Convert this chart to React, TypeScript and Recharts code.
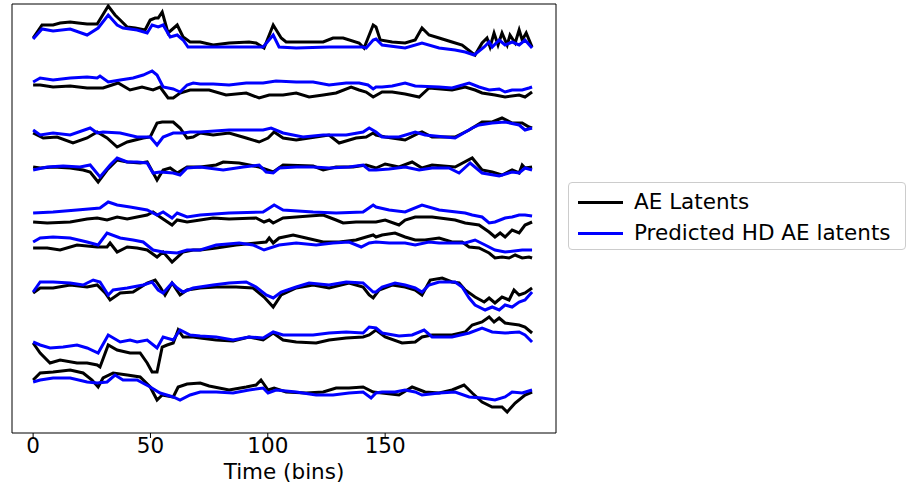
import { LineChart, Line, XAxis, YAxis, ReferenceArea } from "recharts";

type Pt = [number, number];

// time (bins) vs stacked latent level (offset traces, larger = lower on the plot)
const aeLatent1: Pt[] = [[0,38],[3.8,25],[8.5,25],[11.5,23],[15.8,22],[19.2,23],[23,24],[27.3,24],[32,6],[34.9,15],[37.1,20],[40.1,27],[43.5,28],[47.7,30],[49.9,20],[52,18],[53.3,18],[55,12],[57.5,33],[61.4,25],[63.9,37],[66.9,42],[71.2,42],[76.7,45],[83.5,43],[92,42],[95,43],[98.4,48],[102.3,25],[105.7,38],[107.8,42],[117.6,42],[123.6,42],[127.8,38],[132.1,38],[138.9,43],[141,48],[144.9,25],[146.1,27],[147.9,40],[153,42],[158.5,43],[162.8,40],[165.7,28],[168.7,35],[173,38],[178.5,42],[182.8,45],[187.1,53],[188.3,55],[191.3,43],[193.4,38],[194.7,47],[196.4,33],[198.1,45],[199.8,33],[202,45],[203.2,35],[205.4,43],[207.1,30],[208.4,40],[210.1,33],[212.6,47]];
const predLatent1: Pt[] = [[0,39],[3.8,29],[8.5,31],[15.8,29],[23,35],[27.7,28],[32,15],[35.8,25],[38.3,28],[44.3,30],[48.6,33],[50.7,25],[53.3,27],[55.4,25],[58.4,37],[61.4,35],[63.9,40],[66,47],[71.2,47],[83.5,47],[98,47],[102.3,35],[104.8,47],[112.1,48],[126.1,47],[140.6,47],[141.9,48],[144.9,40],[146.1,39],[148.7,45],[158.5,48],[165.7,43],[173,48],[179.8,50],[184.1,52],[187.9,55],[192.2,47],[194.3,42],[195.6,47],[198.6,40],[201.1,45],[204.1,42],[207.1,45],[209.6,40],[212.6,48]];

const aeLatent2: Pt[] = [[0,85],[3,85],[8.5,87],[15.8,86],[23,88],[29.8,88],[36.2,83],[41.3,90],[46.4,87],[51.1,90],[54.1,87],[57.5,98],[59.7,98],[62.6,93],[66.9,90],[71.2,90],[75,90],[82.2,95],[90.8,93],[96.3,98],[100.6,95],[106.5,95],[112.1,93],[117.6,97],[123.6,95],[129.1,93],[135.5,87],[138.9,90],[141.9,92],[144.9,97],[148.7,92],[153,92],[158.5,94],[164.5,97],[168.7,88],[178.5,90],[184.1,87],[188.3,90],[191.3,93],[196.8,95],[201.1,97],[207.1,95],[209.6,97],[212.6,92]];
const predLatent2: Pt[] = [[0,82],[3,78],[8.5,80],[15.8,78],[23,77],[27.3,78],[28.5,76],[32,82],[37.1,80],[42.6,78],[46.9,75],[50.7,71],[52.8,75],[55.4,87],[59.7,89],[62.6,92],[65.6,85],[68.2,83],[71.2,84],[76.7,84],[83.5,85],[90.8,83],[98,83],[103.5,81],[112.1,82],[119.3,82],[126.1,85],[133.4,83],[138.9,83],[142.7,85],[144.9,89],[146.1,87],[148.7,87],[153,86],[158.5,83],[162.8,86],[173,87],[178.5,88],[185.8,83],[190,87],[194.3,90],[198.6,89],[201.1,92],[204.1,90],[208.4,90],[211.3,88],[212.6,87]];

const aeLatent3: Pt[] = [[0,133],[4.3,138],[10.2,137],[17,143],[23,138],[27.3,132],[31.5,138],[35.8,147],[40.1,142],[46.9,138],[49.9,137],[52.8,123],[55,122],[59.7,122],[62.6,128],[65.6,138],[68.2,137],[71.2,133],[76.7,135],[83.5,133],[90.8,138],[96.3,142],[100.1,138],[102.7,132],[106.5,138],[112.1,140],[117.6,138],[126.1,135],[130.4,143],[137.6,138],[141.9,137],[144.9,133],[146.1,135],[150,137],[158.5,140],[164.5,133],[165.7,132],[170,137],[179.8,137],[185.8,130],[191.3,122],[195.6,122],[199.8,118],[204.1,123],[208.4,123],[211.3,127],[212.6,128]];
const predLatent3: Pt[] = [[0,130],[3,135],[8.5,133],[15.8,135],[24.3,128],[27.3,133],[29.8,132],[37.1,133],[44.3,137],[49.9,137],[52.8,145],[55.4,137],[59.7,133],[63.9,133],[66.9,132],[71.2,132],[83.5,130],[98,130],[101.4,128],[106.5,133],[115,137],[123.6,135],[133.4,135],[140.6,132],[143.2,128],[146.1,132],[148.7,137],[155.9,137],[162.8,132],[167,135],[179.8,138],[187.1,128],[190,125],[195.6,123],[201.1,122],[207.1,125],[209.6,130],[212.6,128]];

const aeLatent4: Pt[] = [[0,167],[3,168],[8.5,167],[15.8,168],[21.3,170],[24.3,172],[27.7,182],[31.5,170],[35.8,160],[40.1,162],[45.6,163],[48.6,162],[52.8,180],[55.4,170],[58.4,168],[61.4,173],[65.6,167],[71.2,167],[78,165],[81,162],[87.8,163],[96.3,167],[102.3,172],[106.5,165],[119.3,166],[123.6,170],[129.1,167],[136.3,167],[141.9,165],[146.1,168],[150,164],[155.9,167],[161.5,162],[165.7,168],[170,165],[179.8,167],[187.1,158],[191.3,170],[195.6,172],[199.8,175],[204.1,170],[207.1,173],[208.4,165],[209.6,168],[212.6,167]];
const predLatent4: Pt[] = [[0,170],[6,167],[12.8,166],[20,167],[24.3,165],[28.5,177],[32.8,165],[35.8,158],[40.1,162],[44.3,162],[48.6,163],[51.1,173],[54.1,172],[59.7,173],[62.6,175],[65.6,168],[71.2,167],[81,170],[89.5,167],[96.3,165],[99.3,172],[102.3,173],[104.8,168],[112.1,167],[119.3,167],[126.1,168],[134.6,167],[140.6,165],[143.2,170],[146.1,170],[151.7,169],[158.5,167],[164.5,170],[170,168],[177.2,168],[181.5,173],[186.2,163],[191.3,173],[198.6,176],[204.1,172],[207.1,173],[209.6,168],[212.6,170]];

const aeLatent5: Pt[] = [[0,222],[6,223],[15.8,222],[23,219],[27.3,218],[31.5,220],[35.8,217],[40.1,219],[44.3,217],[48.6,215],[51.1,212],[54.1,217],[59.2,225],[61.4,220],[65.6,222],[71.2,220],[76.7,218],[83.5,219],[95,218],[98.4,222],[100.6,220],[102.3,223],[106.5,218],[112.1,217],[117.6,216],[123.6,215],[129.1,220],[132.1,223],[137.6,222],[146.1,222],[150,220],[155.9,225],[158.5,220],[162.8,217],[170,217],[179.8,220],[184.1,223],[190,225],[194.3,232],[196.8,237],[199,233],[201.1,237],[204.1,230],[207.1,233],[209.6,225],[212.6,222]];
const predLatent5: Pt[] = [[0,213],[8.5,212],[18.7,210],[28.5,208],[32,202],[35.8,205],[41.3,207],[48.6,210],[52.8,215],[55.4,212],[59.2,218],[61.4,213],[65.6,217],[71.2,215],[83.5,213],[98,212],[102.7,205],[106.5,210],[119.3,212],[129.1,213],[140.6,212],[144.9,205],[146.1,207],[151.7,210],[158.5,212],[165.7,205],[173,210],[184.1,213],[187.1,215],[191.3,217],[194.3,223],[196.8,222],[201.1,218],[204.1,217],[207.1,215],[209.6,215],[212.6,216]];

const aeLatent6: Pt[] = [[0,248],[6,248],[11.5,250],[18.7,245],[27.3,247],[31.5,247],[32.8,243],[35.8,252],[40.1,247],[44.3,248],[48.6,250],[52.8,257],[55.4,252],[59.2,262],[63.9,252],[68.2,250],[71.2,250],[78,248],[86.5,245],[95,243],[99.3,242],[100.6,238],[102.3,243],[104.8,238],[110.8,235],[116.3,238],[123.6,242],[130.4,242],[137.6,240],[141.9,237],[144.9,235],[146.1,237],[148.7,235],[154.2,233],[158.5,237],[162.8,240],[167,240],[173,238],[178.5,242],[182.8,242],[185.8,247],[190,248],[194.3,253],[196.8,258],[199.8,257],[202.8,258],[205.4,255],[208.4,258],[211.3,257],[212.6,258]];
const predLatent6: Pt[] = [[0,242],[3,238],[8.5,237],[15.8,238],[23,242],[27.7,245],[31.5,233],[37.1,238],[42.6,240],[46.9,242],[51.1,250],[55.4,252],[61.4,253],[65.6,250],[71.2,250],[78,245],[87.8,243],[93.7,245],[98.4,250],[104.8,245],[112.1,243],[120.6,245],[127.8,243],[134.6,242],[139.8,247],[143.2,243],[146.1,242],[151.7,243],[158.5,243],[162.8,245],[168.7,242],[173,243],[184.1,243],[188.3,240],[192.6,245],[196.8,250],[201.1,252],[208.4,250],[212.6,250]];

const aeLatent7: Pt[] = [[0,293],[3,288],[8.5,288],[15.8,285],[23,287],[27.3,285],[30.7,293],[32.8,300],[37.1,293],[42.6,292],[48.6,283],[52,280],[54.1,287],[56.2,295],[59.2,283],[62.6,295],[65.6,290],[71.2,288],[78,287],[86.5,287],[93.7,288],[98.4,297],[102.3,307],[105.7,295],[112.1,288],[119.3,285],[126.1,288],[134.6,283],[140.6,287],[143.2,295],[144.9,298],[147.4,290],[153,285],[158.5,287],[162.8,290],[165.7,295],[169.2,280],[174.3,278],[178.5,282],[181.5,283],[184.1,290],[188.3,297],[192.2,302],[194.3,298],[196.8,303],[199.8,297],[202.8,300],[204.9,290],[207.1,295],[209.6,293],[212.6,288]];
const predLatent7: Pt[] = [[0,292],[3,282],[8.5,282],[15.8,283],[21.3,285],[25.6,280],[28.5,282],[32,295],[34.1,290],[40.1,288],[46.9,285],[50.7,282],[53.3,290],[55.4,293],[59.2,283],[61.4,288],[63.9,292],[68.2,288],[76.7,285],[83.5,283],[90.8,282],[95,287],[99.3,295],[102.3,298],[105.7,292],[112.1,287],[117.6,283],[126.1,285],[133.4,282],[140.6,283],[144.9,292],[146.1,292],[148.7,287],[154.2,283],[158.5,285],[162.8,288],[165.7,292],[168.7,285],[173,282],[179.8,282],[182.8,287],[185.8,298],[188.3,305],[192.6,310],[195.6,307],[198.6,310],[201.1,305],[204.1,307],[207.1,302],[209.6,300],[212.6,292]];

const aeLatent8: Pt[] = [[0,343],[3,353],[7.2,363],[11.5,360],[18.7,363],[23,363],[27.3,365],[28.5,367],[32,345],[35.8,350],[41.3,353],[45.6,353],[48.6,363],[50.7,372],[52.8,372],[55,347],[57.1,345],[59.7,343],[61.8,330],[63.9,337],[68.2,337],[71.2,338],[78,340],[85.2,341],[92,337],[98,340],[102.3,333],[106.5,340],[112.1,342],[120.6,343],[126.1,340],[133.4,338],[140.6,337],[143.2,335],[146.1,330],[150,337],[157.2,343],[162.8,342],[165.7,337],[170,335],[178.5,335],[184.1,332],[187.1,325],[191.3,322],[194.3,317],[196.4,322],[198.6,318],[201.1,323],[207.1,325],[209.6,327],[212.6,333]];
const predLatent8: Pt[] = [[0,342],[3,345],[7.2,348],[12.8,347],[18.7,345],[23,348],[27.7,353],[32,335],[37.1,342],[41.3,340],[44.3,342],[48.6,340],[52.8,348],[55.4,337],[59.7,340],[62.6,330],[66.9,335],[71.2,336],[78,337],[85.2,340],[92,337],[98,338],[102.3,332],[106.5,335],[119.3,335],[126.1,333],[133.4,332],[140.6,333],[143.2,327],[146.1,328],[148.7,333],[155.9,336],[161.5,335],[166.6,330],[170,337],[178.5,337],[185.8,333],[191.3,328],[195.6,332],[201.1,333],[207.1,332],[209.6,335],[212.6,342]];

const aeLatent9: Pt[] = [[0,380],[3,373],[8.5,372],[15.8,370],[21.3,373],[25.1,380],[27.7,387],[29.8,378],[34.1,373],[40.1,375],[45.6,377],[49.9,387],[52.8,400],[55,395],[59.7,397],[61.8,387],[65.6,384],[71.2,383],[75,386],[83.5,390],[90.8,387],[95,385],[97.1,380],[100.1,390],[102.7,388],[107.8,392],[116.3,393],[123.6,392],[129.1,388],[134.6,388],[140.6,387],[144.9,392],[148.7,393],[155.9,395],[161.5,387],[167,392],[173,393],[178.5,390],[183.6,385],[187.1,393],[191.3,402],[195.6,407],[199.8,407],[202,412],[205.4,403],[209.6,395],[212.6,392]];
const predLatent9: Pt[] = [[0,382],[3,380],[8.5,378],[15.8,378],[23,382],[27.3,383],[31.5,382],[34.9,375],[38.3,380],[44.3,380],[49.9,387],[54.1,393],[59.7,397],[62.6,400],[66.9,395],[71.2,392],[78,392],[85.2,393],[92,390],[98,388],[100.1,393],[103.5,390],[112.1,392],[120.6,395],[127.8,395],[134.6,393],[140.6,392],[144,398],[146.1,393],[148.7,392],[154.2,392],[158.5,390],[162.8,392],[165.7,395],[173,393],[179.8,392],[185.8,397],[191.3,398],[196.8,400],[201.1,397],[204.1,392],[208.4,393],[212.6,390]];

const aeSeries = [aeLatent1, aeLatent2, aeLatent3, aeLatent4, aeLatent5, aeLatent6, aeLatent7, aeLatent8, aeLatent9];
const predSeries = [predLatent1, predLatent2, predLatent3, predLatent4, predLatent5, predLatent6, predLatent7, predLatent8, predLatent9];

const xTicks = [0, 50, 100, 150];
const xDomain = [-9, 222.8];
const yDomain = [4, 433];

const legendItems = [
  { label: "AE Latents", color: "#000000" },
  { label: "Predicted HD AE latents", color: "#0000ff" },
];

const FONT = "'DejaVu Sans', sans-serif";
const FONT_SIZE = 21.5;

const toRows = (pts: Pt[]) => pts.map(([t, v]) => ({ t, v }));

export default function App() {
  return (
    <div style={{ position: "absolute", left: 0, top: 0, width: 907, height: 486, background: "#fff", fontFamily: FONT }}>
      <LineChart width={907} height={486} margin={{ top: 4, right: 351, bottom: 0, left: 12 }}>
        <XAxis
          dataKey="t"
          type="number"
          domain={xDomain}
          ticks={xTicks}
          allowDataOverflow
          axisLine={false}
          tickLine={{ stroke: "#000" }}
          tickSize={5}
          tickMargin={0}
          height={53}
          tick={{ fill: "#000", fontSize: FONT_SIZE, fontFamily: FONT }}
          label={{ value: "Time (bins)", position: "insideBottom", offset: 7, fill: "#000", fontSize: FONT_SIZE, fontFamily: FONT }}
        />
        <YAxis type="number" domain={yDomain} reversed hide allowDataOverflow />
        <ReferenceArea x1={xDomain[0]} x2={xDomain[1]} y1={yDomain[0]} y2={yDomain[1]} fill="none" stroke="#000" strokeWidth={1} ifOverflow="visible" />
        {aeSeries.map((s, i) => [
          <Line
            key={`ae${i}`}
            data={toRows(s)}
            dataKey="v"
            type="linear"
            stroke="#000000"
            strokeWidth={3}
            dot={false}
            isAnimationActive={false}
          />,
          <Line
            key={`pred${i}`}
            data={toRows(predSeries[i])}
            dataKey="v"
            type="linear"
            stroke="#0000ff"
            strokeWidth={3}
            dot={false}
            isAnimationActive={false}
          />,
        ])}
      </LineChart>
      <div
        style={{
          position: "absolute",
          left: 568,
          top: 182,
          width: 338,
          height: 68,
          boxSizing: "border-box",
          border: "1px solid #cccccc",
          borderRadius: 4,
          background: "#fff",
        }}
      >
        {legendItems.map((item, i) => (
          <div
            key={item.label}
            style={{ position: "absolute", left: 9, top: 5 + i * 31, height: 28, display: "flex", alignItems: "center", whiteSpace: "nowrap" }}
          >
            <span style={{ display: "inline-block", width: 45, height: 3, background: item.color }} />
            <span style={{ marginLeft: 11, fontSize: FONT_SIZE, color: "#000", lineHeight: "28px" }}>{item.label}</span>
          </div>
        ))}
      </div>
    </div>
  );
}
